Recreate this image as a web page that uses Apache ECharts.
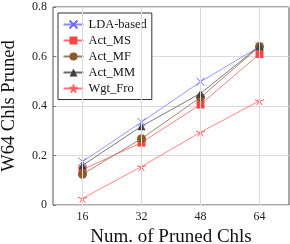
<!DOCTYPE html>
<html><head><meta charset="utf-8">
<script src="https://cdn.jsdelivr.net/npm/echarts@6/dist/echarts.min.js"></script>
<style>html,body{margin:0;padding:0;background:#fff}#c{width:290px;height:244px}</style>
</head><body><div id="c"></div>
<script>
const categories = ['16', '32', '48', '64'];
const ldaBased = [0.175, 0.335, 0.498, 0.64];
const actMS = [0.143, 0.252, 0.406, 0.61];
const actMF = [0.124, 0.268, 0.435, 0.64];
const actMM = [0.160, 0.318, 0.451, 0.642];
const wgtFro = [0.027, 0.155, 0.294, 0.421];
const yTicks = [0, 0.2, 0.4, 0.6, 0.8];

const FONT = 'Liberation Serif';
const crossPath = 'path://M-1,-1L1,1M-1,1L1,-1';
const starPath = 'path://M0,0L0,-1M0,0L0.951,-0.309M0,0L0.588,0.809M0,0L-0.588,0.809M0,0L-0.951,-0.309';

function mk(name, data, lineColor, markColor, symbol, size, stroke) {
  return {
    name: name, type: 'line', data: data, z: 3,
    symbol: symbol, symbolSize: size, symbolKeepAspect: true, showSymbol: true,
    lineStyle: { color: lineColor, width: 0.9 },
    itemStyle: stroke ? { color: markColor, borderColor: markColor, borderWidth: 1 } : { color: markColor },
    emphasis: { disabled: true }, animation: false
  };
}

const chart = echarts.init(document.getElementById('c'), null, { renderer: 'canvas' });
chart.setOption({
  animation: false,
  textStyle: { fontFamily: FONT },
  grid: { left: 53, top: 7, width: 236, height: 198, show: true, borderColor: '#555', borderWidth: 1,
    backgroundColor: 'transparent', containLabel: false, outerBoundsMode: 'none' },
  legend: {
    data: ['LDA-based', 'Act_MS', 'Act_MF', 'Act_MM', 'Wgt_Fro'],
    orient: 'vertical', left: 58, top: 13,
    padding: [5, 5, 4.5, 4.5], itemGap: 3, itemWidth: 20, itemHeight: 10,
    backgroundColor: '#fff', borderColor: '#333', borderWidth: 1,
    textStyle: { fontFamily: FONT, fontSize: 12.5, color: '#111', padding: [0, 0, 0, 0], lineHeight: 12 },
    selectedMode: false
  },
  xAxis: {
    type: 'category', data: categories, boundaryGap: true,
    axisLine: { show: false },
    axisTick: { show: true, inside: true, alignWithLabel: true, length: 3, lineStyle: { color: '#777' } },
    axisLabel: { fontFamily: FONT, fontSize: 12, color: '#222', margin: 6 },
    splitLine: { show: false },
    name: 'Num. of Pruned Chls', nameLocation: 'middle', nameGap: 18,
    nameTextStyle: { fontFamily: FONT, fontSize: 19, color: '#111' }
  },
  yAxis: {
    type: 'value', min: 0, max: 0.8, interval: 0.2,
    axisLine: { show: false },
    axisTick: { show: true, inside: true, length: 3, lineStyle: { color: '#777' } },
    axisLabel: { fontFamily: FONT, fontSize: 12, color: '#222', margin: 6,
      formatter: function (v) { return yTicks.indexOf(Math.round(v * 10) / 10) >= 0 ? String(Math.round(v * 10) / 10) : ''; } },
    splitLine: { show: true, lineStyle: { color: '#dadada', width: 1 } },
    name: 'W64 Chls Pruned', nameLocation: 'middle', nameGap: 34,
    nameTextStyle: { fontFamily: FONT, fontSize: 18.5, color: '#111' }
  },
  series: [
    { name: 'grid-x', type: 'line', data: [], z: 1, silent: true,
      markLine: { silent: true, symbol: 'none', label: { show: false },
        lineStyle: { color: '#dadada', width: 1, type: 'solid' },
        data: categories.map(function (c, i) { return { xAxis: i }; }) } },
    mk('LDA-based', ldaBased, '#8a8aff', '#6a6aff', crossPath, 8, true),
    mk('Act_MS', actMS, '#ff7070', '#ff4545', 'rect', 8, false),
    mk('Act_MF', actMF, '#a0785a', '#8b5a2b', 'circle', 9, false),
    mk('Act_MM', actMM, '#6a6a6a', '#404040', 'triangle', 8, false),
    mk('Wgt_Fro', wgtFro, '#ff7a7a', '#ff5a5a', starPath, 9, true)
  ]
});
</script></body></html>
